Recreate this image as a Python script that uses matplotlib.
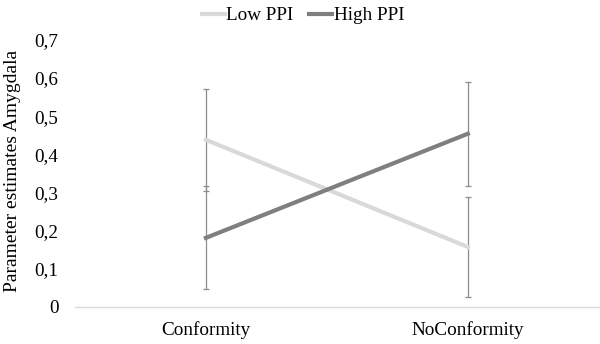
import matplotlib
matplotlib.use("Agg")
import matplotlib.pyplot as plt
from matplotlib.lines import Line2D

categories = ["Conformity", "NoConformity"]
low_ppi = [0.438, 0.157]
low_err = [0.133, 0.130]
high_ppi = [0.181, 0.454]
high_err = [0.135, 0.136]
yticks = [0, 0.1, 0.2, 0.3, 0.4, 0.5, 0.6, 0.7]
ytick_labels = ["0", "0,1", "0,2", "0,3", "0,4", "0,5", "0,6", "0,7"]

plt.rcParams['font.family'] = ['Liberation Serif', 'DejaVu Serif']
FS = 13.8

fig = plt.figure(figsize=(6.0, 3.44), dpi=100)
ax = fig.add_axes([0.125, 0.108, 0.873, 0.776])

x = list(range(len(categories)))
ax.errorbar(x, low_ppi, yerr=low_err, color='#d9d9d9', lw=3,
            ecolor='#8c8c8c', elinewidth=0.9, capsize=2.5, capthick=0.9, zorder=3)
ax.errorbar(x, high_ppi, yerr=high_err, color='#7f7f7f', lw=3,
            ecolor='#8c8c8c', elinewidth=0.9, capsize=2.5, capthick=0.9, zorder=3)

ax.set_xlim(-0.5, 1.5)
ax.set_ylim(0, 0.7)
ax.set_xticks(x)
ax.set_xticklabels(categories, fontsize=FS)
ax.set_yticks(yticks)
ax.set_yticklabels(ytick_labels, fontsize=FS)
ax.tick_params(axis='y', length=0, pad=12)
ax.tick_params(axis='x', length=0, pad=10)
for s in ['top', 'right', 'left']:
    ax.spines[s].set_visible(False)
ax.spines['bottom'].set_color('#d9d9d9')
ax.spines['bottom'].set_linewidth(1)

fig.text(13 / 600, 1 - 171 / 344, "Parameter estimates Amygdala", fontsize=14,
         rotation=90, ha='center', va='center')

h = [Line2D([], [], color='#d9d9d9', lw=3), Line2D([], [], color='#7f7f7f', lw=3)]
fig.legend(h, ['Low PPI', 'High PPI'], loc='upper center', bbox_to_anchor=(0.505, 1.03),
           ncol=2, frameon=False, fontsize=FS, handlelength=1.2, handletextpad=0.1,
           columnspacing=0.8)

fig.savefig("out.png", dpi=100)
